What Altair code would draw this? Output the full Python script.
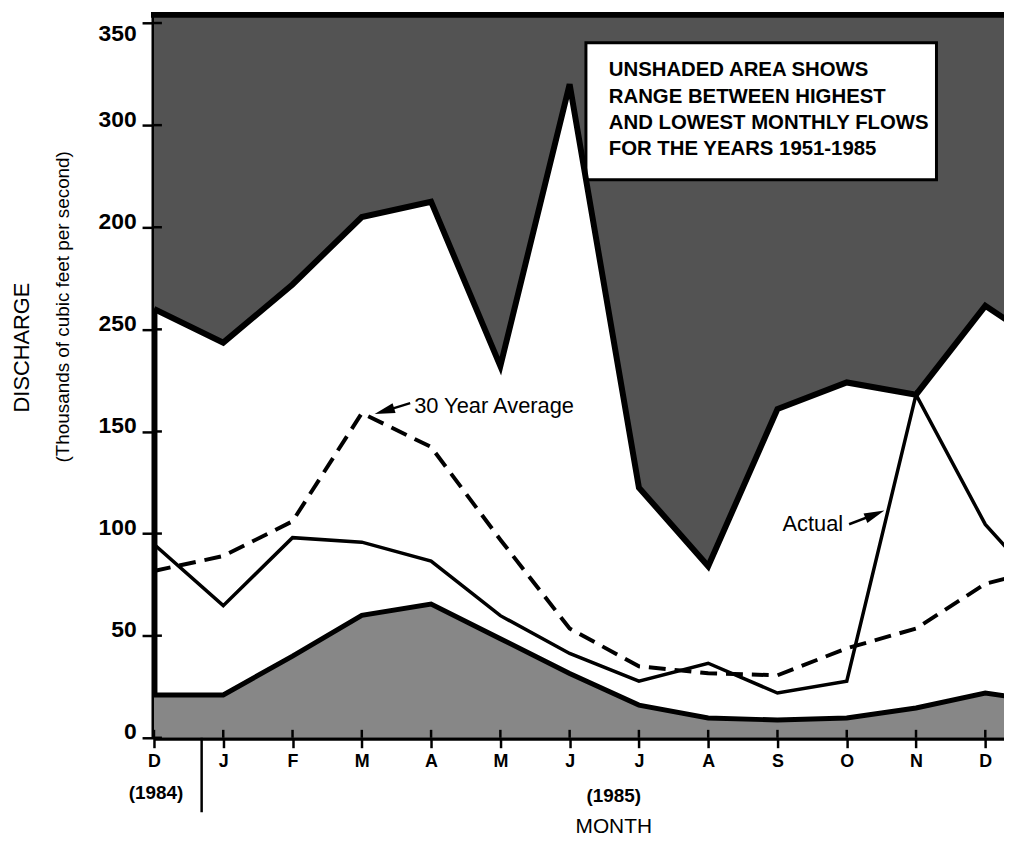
import json
import altair as alt
import pandas as pd

# ---- data -------------------------------------------------------------
month_labels = ["D", "J", "F", "M", "A", "M", "J", "J", "A", "S", "O", "N", "D", "J"]
month_index = list(range(14))          # 0 = Dec 1984 ... 12 = Dec 1985, 13 = Jan 1986 (clipped)
highest = [210, 193.5, 222, 255, 262.5, 182, 320, 122.5, 84, 161, 174, 168, 211.5, 189]
lowest = [21, 21, 40, 60, 65.5, 48.5, 31.5, 16, 9.7, 8.7, 9.7, 14.6, 21.9, 17]
actual = [94.8, 64.7, 98, 95.8, 86.5, 59.8, 41.3, 27.7, 36.5, 21.9, 27.7, 168, 104.5, 67]
average = [81.7, 89, 106, 159, 142.4, 97, 53.5, 35, 31.6, 30.6, 43.8, 53.5, 75.4, 84]

y_tick_values = [0, 50, 100, 150, 200, 250, 300, 350]
y_tick_labels = ["0", "50", "100", "150", "250", "200", "300", "350"]
x_tick_values = list(range(13))

box_lines = ["UNSHADED AREA SHOWS", "RANGE BETWEEN HIGHEST",
             "AND LOWEST MONTHLY FLOWS", "FOR THE YEARS 1951-1985"]

# ---- layout / style ------------------------------------------------------
FONT = "Liberation Sans"
W, H = 856, 728
X_MAX = 12.27
Y_MAX = 354
TOP_FILL = "#535353"
BOTTOM_FILL = "#878787"

df = pd.DataFrame({"i": month_index, "highest": highest, "lowest": lowest,
                   "actual": actual, "average": average})
one = pd.DataFrame({"a": [0]})
xt = pd.DataFrame({"i": x_tick_values})
yt = pd.DataFrame({"v": y_tick_values})

xscale = alt.Scale(domain=[0, X_MAX], nice=False, zero=False)
yscale = alt.Scale(domain=[0, Y_MAX], nice=False, zero=False)

xaxis = alt.Axis(values=x_tick_values,
                 labelExpr=json.dumps(month_labels[:13]) + "[datum.value]",
                 domainColor="black", domainWidth=5, tickColor="black", tickWidth=2.5,
                 tickSize=10, labelFont=FONT, labelFontSize=18, labelFontWeight="bold",
                 labelColor="black", labelPadding=5, grid=False, labelFlush=False, title=None)
yaxis = alt.Axis(values=y_tick_values,
                 labelExpr=json.dumps(y_tick_labels) + "[datum.value/50]",
                 domainColor="black", domainWidth=6, tickColor="black", tickWidth=2.5,
                 tickSize=12, labelFont=FONT, labelFontSize=23, labelFontWeight="bold",
                 labelColor="black", labelPadding=6,
                 labelOffset=alt.condition("datum.value == 350", alt.value(11), alt.value(-6)),
                 grid=False, title=None)


def X(field):
    return alt.X(field, type="quantitative", scale=xscale, axis=xaxis, title=None)


def Y(field):
    return alt.Y(field, type="quantitative", scale=yscale, axis=yaxis, title=None)


base = alt.Chart(df)

top_area = base.mark_area(color=TOP_FILL, clip=True, opacity=1).encode(
    x=X("i"), y=Y("highest"), y2=alt.Y2(datum=Y_MAX))
bottom_area = base.mark_area(color=BOTTOM_FILL, clip=True, opacity=1).encode(
    x=X("i"), y=Y("lowest"), y2=alt.Y2(datum=0))

avg_line = base.mark_line(color="black", strokeWidth=4, strokeDash=[17, 9], clip=True).encode(
    x=X("i"), y=Y("average"))
act_line = base.mark_line(color="black", strokeWidth=3.5, clip=True).encode(
    x=X("i"), y=Y("actual"))
max_line = base.mark_line(color="black", strokeWidth=6, clip=True).encode(
    x=X("i"), y=Y("highest"))
min_line = base.mark_line(color="black", strokeWidth=5, clip=True).encode(
    x=X("i"), y=Y("lowest"))

# inner halves of the crossing tick marks
x_inner = alt.Chart(xt).mark_rule(color="black", strokeWidth=2.5).encode(
    x=X("i"), y=alt.value(H - 8), y2=alt.value(H))
y_inner = alt.Chart(yt).mark_rule(color="black", strokeWidth=2.5).encode(
    y=Y("v"), x=alt.value(0), x2=alt.value(8))

top_border = alt.Chart(one).mark_rule(color="black", strokeWidth=6).encode(
    x=alt.value(-3), x2=alt.value(W), y=alt.value(0))
year_divider = alt.Chart(one).mark_rule(color="black", strokeWidth=2.5).encode(
    x=alt.value(48), y=alt.value(H), y2=alt.value(803))

box = alt.Chart(one).mark_rect(fill="white", stroke="black", strokeWidth=3).encode(
    x=alt.value(435), x2=alt.value(788), y=alt.value(28), y2=alt.value(166))


def label(text, x, y, size, weight="normal", align="center", angle=0):
    return alt.Chart(one).mark_text(
        text=text, font=FONT, fontSize=size, fontWeight=weight, align=align,
        baseline="middle", angle=angle, color="black").encode(
        x=alt.value(x), y=alt.value(y))


ARROW_HEAD = "M0,-1L0.5,1L-0.5,1Z"


def arrow(x1, y1, x2, y2, angle):
    shaft = alt.Chart(one).mark_rule(color="black", strokeWidth=2.5).encode(
        x=alt.value(x1), y=alt.value(y1), x2=alt.value(x2), y2=alt.value(y2))
    head = alt.Chart(one).mark_point(shape=ARROW_HEAD, filled=True, size=420, angle=angle,
                                     color="black", opacity=1).encode(
        x=alt.value(x2), y=alt.value(y2))
    return [shaft, head]


box_texts = [label(t, 458, 56 + 26.3 * k, 20.5, weight="bold", align="left")
             for k, t in enumerate(box_lines)]

texts = [
    label("30 Year Average", 262, 394, 22, align="left"),
    label("Actual", 633, 513, 22, align="left"),
    label("DISCHARGE", -133, 335, 22, angle=270),
    label("(Thousands of cubic feet per second)", -92, 294, 19, angle=270),
    label("(1984)", 2, 784, 19, weight="bold"),
    label("(1985)", 463, 787, 19, weight="bold"),
    label("MONTH", 463, 818, 21),
]

layers = [top_area, bottom_area, box] + box_texts + [
    avg_line, act_line, max_line, min_line, x_inner, y_inner, top_border, year_divider]
layers += texts
layers += arrow(258, 391, 232, 399, 253)
layers += arrow(700, 513, 726, 503, 68)

chart = alt.layer(*layers).properties(
    width=W, height=H,
    autosize=alt.AutoSizeParams(type="none"),
    padding={"left": 147, "top": 4, "right": 0, "bottom": 96},
    background="white",
).configure_view(stroke=None)

chart.save("out.html", embed_options={"renderer": "svg", "actions": False})
